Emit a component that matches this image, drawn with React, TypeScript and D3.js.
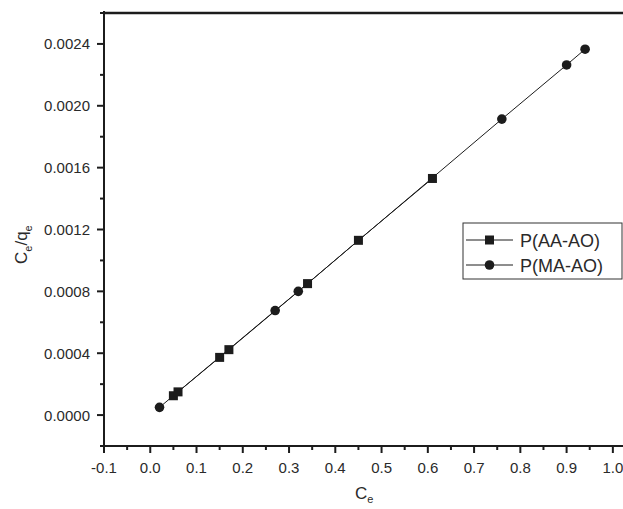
import * as d3 from "d3";

const aaX = [0.05, 0.06, 0.15, 0.17, 0.34, 0.45, 0.61];
const aaY = [0.000125, 0.00015, 0.000373, 0.000423, 0.00085, 0.00113, 0.00153];
const maX = [0.02, 0.27, 0.32, 0.76, 0.9, 0.94];
const maY = [0.00005, 0.000676, 0.0008, 0.001914, 0.002264, 0.002366];
const xTicks = [-0.1, 0, 0.1, 0.2, 0.3, 0.4, 0.5, 0.6, 0.7, 0.8, 0.9, 1.0];
const yTicks = [0, 0.0004, 0.0008, 0.0012, 0.0016, 0.002, 0.0024];
const seriesNames = ["P(AA-AO)", "P(MA-AO)"];

const W = 623;
const H = 509;
const left = 104;
const top = 13;
const bottom = 446;
const ink = "#1c1c1c";
const font = "'Liberation Sans', Arial, sans-serif";

// plain hyphen for negatives, like the original plot
const fmtX = (t: number) => d3.format(".1f")(t).replace("\u2212", "-");
const fmtY = d3.format(".4f");

export default function App() {
  const x = d3.scaleLinear().domain([-0.1, 1.05]).range([left, left + 1.15 * 462.6]);
  const y = d3.scaleLinear().domain([-0.0002, 0.0026]).range([bottom, top]);
  const line = d3.line<[number, number]>().x((d) => x(d[0])).y((d) => y(d[1]));

  const aa = aaX.map((v, i) => [v, aaY[i]] as [number, number]);
  const ma = maX.map((v, i) => [v, maY[i]] as [number, number]);

  // minor ticks halfway between majors
  const xMinor = xTicks.map((t) => t + 0.05).filter((t) => x(t) < W);
  const yMinor = [-0.0002, ...yTicks.map((t) => t + 0.0002)];

  const lgX = 463;
  const lgY = 223;

  return (
    <svg width={W} height={H} style={{ position: "absolute", left: 0, top: 0, background: "#fff" }}>
      {/* data lines */}
      <path d={line(aa) || ""} fill="none" stroke={ink} strokeWidth={1} />
      <path d={line(ma) || ""} fill="none" stroke={ink} strokeWidth={1} />
      {aa.map((d, i) => (
        <rect key={"a" + i} x={x(d[0]) - 4.5} y={y(d[1]) - 4.5} width={9} height={9} fill={ink} />
      ))}
      {ma.map((d, i) => (
        <circle key={"m" + i} cx={x(d[0])} cy={y(d[1])} r={4.8} fill={ink} />
      ))}

      {/* frame */}
      <line x1={left} x2={W} y1={top} y2={top} stroke={ink} strokeWidth={2.5} />
      <line x1={left} x2={left} y1={top - 2} y2={bottom + 1} stroke={ink} strokeWidth={2} />
      <line x1={left - 1} x2={W} y1={bottom} y2={bottom} stroke={ink} strokeWidth={2} />

      {/* x ticks */}
      {xTicks.map((t) => (
        <g key={"xt" + t}>
          <line x1={x(t)} x2={x(t)} y1={bottom} y2={bottom + 7} stroke={ink} strokeWidth={2} />
          <text x={x(t)} y={473} textAnchor="middle" fontFamily={font} fontSize={15} fill="#2a2a2a">
            {fmtX(t)}
          </text>
        </g>
      ))}
      {xMinor.map((t) => (
        <line key={"xm" + t} x1={x(t)} x2={x(t)} y1={bottom} y2={bottom + 4} stroke={ink} strokeWidth={2} />
      ))}

      {/* y ticks */}
      {yTicks.map((t) => (
        <g key={"yt" + t}>
          <line x1={left - 7} x2={left} y1={y(t)} y2={y(t)} stroke={ink} strokeWidth={2} />
          <text x={90} y={y(t) + 5.5} textAnchor="end" fontFamily={font} fontSize={15} fill="#2a2a2a">
            {fmtY(t)}
          </text>
        </g>
      ))}
      {yMinor.map((t) => (
        <line key={"ym" + t} x1={left - 4} x2={left} y1={y(t)} y2={y(t)} stroke={ink} strokeWidth={2} />
      ))}

      {/* axis titles */}
      <text x={355} y={499} fontFamily={font} fontSize={17} fill="#2a2a2a">
        C<tspan dy={4} fontSize={11}>e</tspan>
      </text>
      <text transform="translate(27,264) rotate(-90)" fontFamily={font} fontSize={17} fill="#2a2a2a">
        C<tspan dy={5} fontSize={11}>e</tspan>
        <tspan dy={-5}>/q</tspan>
        <tspan dy={5} fontSize={11}>e</tspan>
      </text>

      {/* legend */}
      <rect x={lgX} y={lgY} width={159} height={56} fill="#fff" stroke="#333" strokeWidth={1} />
      {seriesNames.map((name, i) => {
        const cy = lgY + 17 + i * 25;
        return (
          <g key={name}>
            <line x1={lgX + 3} x2={lgX + 50} y1={cy} y2={cy} stroke={ink} strokeWidth={1} />
            {i === 0 ? (
              <rect x={lgX + 22} y={cy - 4.5} width={9} height={9} fill={ink} />
            ) : (
              <circle cx={lgX + 26.5} cy={cy} r={4.8} fill={ink} />
            )}
            <text x={lgX + 57} y={cy + 6.5} fontFamily={font} fontSize={18} fill="#2a2a2a">
              {name}
            </text>
          </g>
        );
      })}
    </svg>
  );
}
